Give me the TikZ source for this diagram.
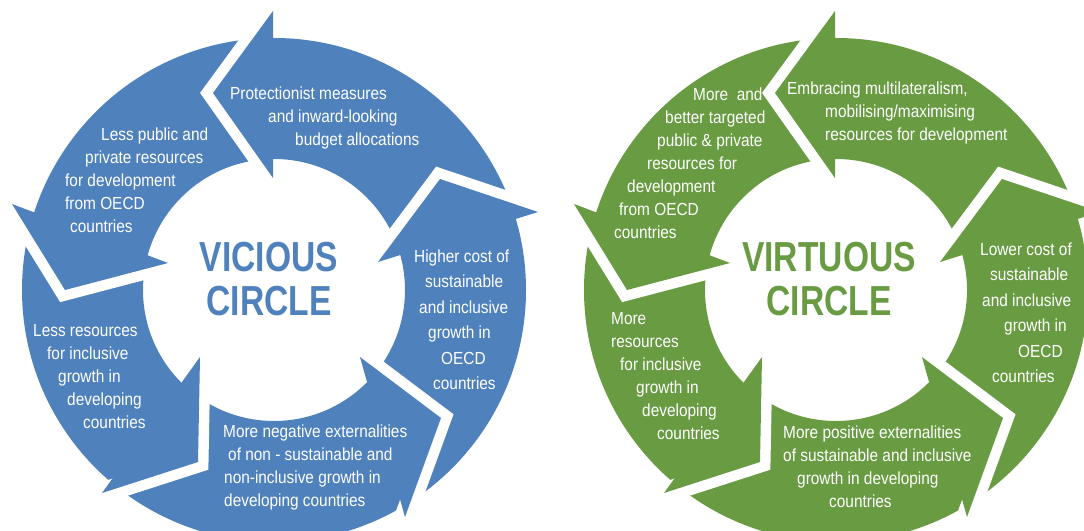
\documentclass[tikz,border=0pt]{standalone}
\usepackage{fontspec}
\setmainfont{Liberation Sans}[FakeStretch=0.88]
\newfontfamily\titlefont{Liberation Sans}[FakeStretch=0.8]
\definecolor{vblue}{RGB}{79,129,189}
\definecolor{vgreen}{RGB}{104,155,66}
\tikzset{
  lbl/.style={text=white, inner sep=0pt, align=left, anchor=west, font=\fontsize{17.5}{23}\selectfont},
  lblwide/.style={lbl, font=\fontsize{17.5}{25.5}\selectfont},
  ttl/.style={text=#1, inner sep=0pt, align=center, font=\titlefont\bfseries\fontsize{42}{44}\selectfont},
  gapline/.style={draw=white, line width=21pt, line join=miter, miter limit=10},
}
\begin{document}
\begin{tikzpicture}[x=1pt,y=1pt]
\useasboundingbox (0,0) rectangle (1084,530);
\begin{scope}
\clip (0,0) rectangle (1084,530);
\foreach \dx/\col in {0pt/vblue, 562pt/vgreen} {
  \begin{scope}[xshift=\dx]
    \fill[\col, even odd rule] (274,240) circle[radius=252pt] (274,240) circle[radius=131pt];
    \foreach \ox/\oy/\tx/\ty/\ix/\iy in {
        273/519/213/437/273/352,
        12/326/65/240/168/267,
        102/37/198/68/200/173,
        405/13/441/112/360/173,
        538/318/440/351/378/268} {
      \draw[gapline] (\ox,\oy) -- (\tx,\ty) -- (\ix,\iy);
      \fill[\col] (\ox,\oy) -- (\tx,\ty) -- (\ix,\iy) -- cycle;
    }
  \end{scope}
}
\end{scope}
% vicious circle texts
\node[lbl] (vtop) at (230,412) {Protectionist measures\\\hspace*{38pt}and inward-looking\\\hspace*{65pt}budget allocations};
\node[lbl] (vul) at (65,350) {\hspace*{36pt}Less public and\\\hspace*{20pt}private resources\\for development\\from OECD\\\hspace*{5pt}countries};
\node[lblwide] (vright) at (414,210.5) {Higher cost of\\\hspace*{11pt}sustainable\\\hspace*{5pt}and inclusive\\\hspace*{14pt}growth in\\\hspace*{27pt}OECD\\\hspace*{19pt}countries};
\node[lbl] (vll) at (33,153.5) {Less resources\\\hspace*{14pt}for inclusive\\\hspace*{25pt}growth in\\\hspace*{34pt}developing\\\hspace*{50pt}countries};
\node[lbl] (vbot) at (223,62.5) {More negative externalities\\\hspace*{5pt}of non - sustainable and\\\hspace*{1pt}non-inclusive growth in\\\hspace*{1pt}developing countries};
\node[ttl=vblue] (vtitle) at (269,250.5) {VICIOUS\\CIRCLE};
% virtuous circle texts
\node[lbl] (gtop) at (787,417) {Embracing multilateralism,\\\hspace*{38pt}mobilising/maximising\\\hspace*{38pt}resources for development};
\node[lbl] (gul) at (614,367) {\hspace*{79pt}More\ \ and\\\hspace*{51pt}better targeted\\\hspace*{43pt}public \& private\\\hspace*{33pt}resources for\\\hspace*{13pt}development\\\hspace*{5pt}from OECD\\countries};
\node[lblwide] (gright) at (980,217) {Lower cost of\\\hspace*{10pt}sustainable\\\hspace*{2pt}and inclusive\\\hspace*{24pt}growth in\\\hspace*{38pt}OECD\\\hspace*{12pt}countries};
\node[lbl] (gll) at (611,153.5) {More\\resources\\\hspace*{9pt}for inclusive\\\hspace*{25pt}growth in\\\hspace*{31pt}developing\\\hspace*{46pt}countries};
\node[lbl] (gbot) at (783,63) {More positive externalities\\of sustainable and inclusive\\\hspace*{14pt}growth in developing\\\hspace*{46pt}countries};
\node[ttl=vgreen] (gtitle) at (829,251) {VIRTUOUS\\CIRCLE};
\end{tikzpicture}
\end{document}
